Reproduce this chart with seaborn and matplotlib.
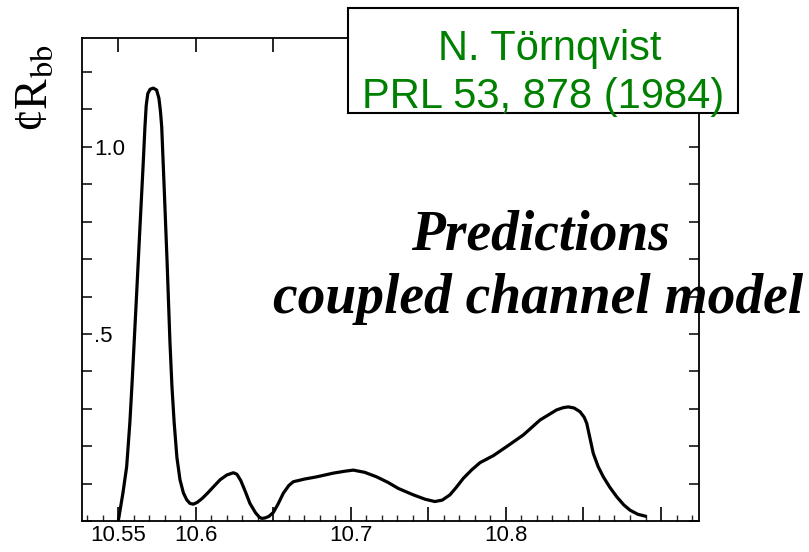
import numpy as np
import pandas as pd
import matplotlib
matplotlib.use("Agg")
import matplotlib.pyplot as plt
import matplotlib.patches as mpatches
from matplotlib.ticker import FixedLocator, FixedFormatter, MultipleLocator
import seaborn as sns

# ---- data ----
energy = [10.5500, 10.5530, 10.5554, 10.5575, 10.5590, 10.5615, 10.5640, 10.5660,
          10.5672, 10.5680, 10.5690, 10.5705, 10.5726, 10.5747, 10.5762, 10.5772,
          10.5780, 10.5797, 10.5815, 10.5833, 10.5846, 10.5860, 10.5878, 10.5898,
          10.5920, 10.5941, 10.5962, 10.5984, 10.6010, 10.6040, 10.6070, 10.6115,
          10.6156, 10.6200, 10.6242, 10.6265, 10.6290, 10.6320, 10.6349, 10.6385,
          10.6410, 10.6425, 10.6445, 10.6470, 10.6500, 10.6530, 10.6564, 10.6600,
          10.6629, 10.6700, 10.6779, 10.6887, 10.6960, 10.7016, 10.7090, 10.7166,
          10.7240, 10.7306, 10.7402, 10.7480, 10.7542, 10.7590, 10.7639, 10.7680,
          10.7725, 10.7780, 10.7833, 10.7920, 10.8005, 10.8112, 10.8220, 10.8327,
          10.8370, 10.8402, 10.8440, 10.8478, 10.8505, 10.8521, 10.8540, 10.8563,
          10.8595, 10.8628, 10.8670, 10.8714, 10.8760, 10.8800, 10.8850, 10.8908]
ratio = [0.000, 0.075, 0.145, 0.265, 0.377, 0.580, 0.787, 0.950,
         1.054, 1.110, 1.142, 1.154, 1.157, 1.152, 1.130, 1.095,
         1.054, 0.880, 0.690, 0.480, 0.360, 0.265, 0.170, 0.110,
         0.075, 0.057, 0.047, 0.045, 0.050, 0.060, 0.072, 0.092,
         0.110, 0.123, 0.129, 0.125, 0.108, 0.078, 0.047, 0.022,
         0.010, 0.007, 0.008, 0.012, 0.023, 0.045, 0.074, 0.095,
         0.105, 0.112, 0.118, 0.128, 0.133, 0.136, 0.130, 0.118,
         0.103, 0.087, 0.070, 0.058, 0.052, 0.056, 0.070, 0.090,
         0.114, 0.137, 0.156, 0.175, 0.199, 0.230, 0.270, 0.297,
         0.303, 0.305, 0.302, 0.292, 0.277, 0.261, 0.225, 0.181,
         0.145, 0.118, 0.090, 0.065, 0.043, 0.029, 0.018, 0.012]

xtick_values = [10.55, 10.60, 10.65, 10.70, 10.75, 10.80, 10.85, 10.90]
xtick_labels = ["10.55", "10.6", "", "10.7", "", "10.8", "", ""]
ytick_values = [0.0, 0.1, 0.2, 0.3, 0.4, 0.5, 0.6, 0.7, 0.8, 0.9, 1.0, 1.1, 1.2]
ytick_labels = ["", "", "", "", "", ".5", "", "", "", "", "1.0", "", ""]

box_lines = ["N. Törnqvist", "PRL 53, 878 (1984)"]
caption_lines = ["Predictions", "coupled channel model"]
ylabel_text = r"¢R$_{\mathrm{bb}}$"

df = pd.DataFrame({"energy": energy, "ratio": ratio})

sns.set_theme(style="ticks")
plt.rcParams["font.family"] = ["Liberation Sans", "DejaVu Sans"]
plt.rcParams["mathtext.fontset"] = "stix"

fig = plt.figure(figsize=(8.09, 5.52), dpi=100)
ax = fig.add_axes([82 / 809, 31 / 552, 617 / 809, 483 / 552])

sns.lineplot(data=df, x="energy", y="ratio", sort=False, color="black",
             linewidth=2.3, ax=ax, solid_joinstyle="round", solid_capstyle="butt")

ax.set_xlim(10.5266, 10.9245)
ax.set_ylim(0, 1.291)
ax.set_xlabel("")
ax.set_ylabel("")

for s in ax.spines.values():
    s.set_visible(True)
    s.set_linewidth(1.3)
    s.set_color("black")

# x ticks
ax.xaxis.set_major_locator(FixedLocator(xtick_values))
ax.xaxis.set_major_formatter(FixedFormatter(xtick_labels))
ax.xaxis.set_minor_locator(MultipleLocator(0.01))
ax.tick_params(axis="x", which="major", direction="in", length=10, width=1.2,
               bottom=True, top=True, labelsize=16, pad=3, colors="black")
ax.tick_params(axis="x", which="minor", direction="in", length=4, width=1.0,
               bottom=True, top=False)

# y ticks (labels inside the frame)
ax.yaxis.set_major_locator(FixedLocator(ytick_values))
ax.yaxis.set_major_formatter(FixedFormatter(ytick_labels))
ax.tick_params(axis="y", which="major", direction="in", length=7, width=1.1,
               left=True, right=True, labelsize=16, pad=-9, colors="black")
for lab in ax.get_yticklabels():
    lab.set_horizontalalignment("left")

# y label
fig.text(36 / 809, 1 - 88 / 552, ylabel_text, rotation=90, fontsize=33,
         family="Liberation Serif", ha="center", va="center", color="black")

# green reference box
rect = mpatches.Rectangle((348 / 809, 1 - 113 / 552), 390 / 809, 105 / 552,
                          transform=fig.transFigure, facecolor="white",
                          edgecolor="black", linewidth=1.5, zorder=5)
fig.add_artist(rect)
fig.text(550 / 809, 1 - 60 / 552, box_lines[0], fontsize=30, color="#008000",
         ha="center", va="baseline", zorder=6)
fig.text(543 / 809, 1 - 108 / 552, box_lines[1], fontsize=30, color="#008000",
         ha="center", va="baseline", zorder=6)

# caption
fig.text(540 / 809, 1 - 250 / 552, caption_lines[0], fontsize=40,
         family="Liberation Serif", fontweight="bold", fontstyle="italic",
         ha="center", va="baseline", color="black", zorder=6)
fig.text(538 / 809, 1 - 313 / 552, caption_lines[1], fontsize=40,
         family="Liberation Serif", fontweight="bold", fontstyle="italic",
         ha="center", va="baseline", color="black", zorder=6)

fig.savefig("out.png", dpi=100)
